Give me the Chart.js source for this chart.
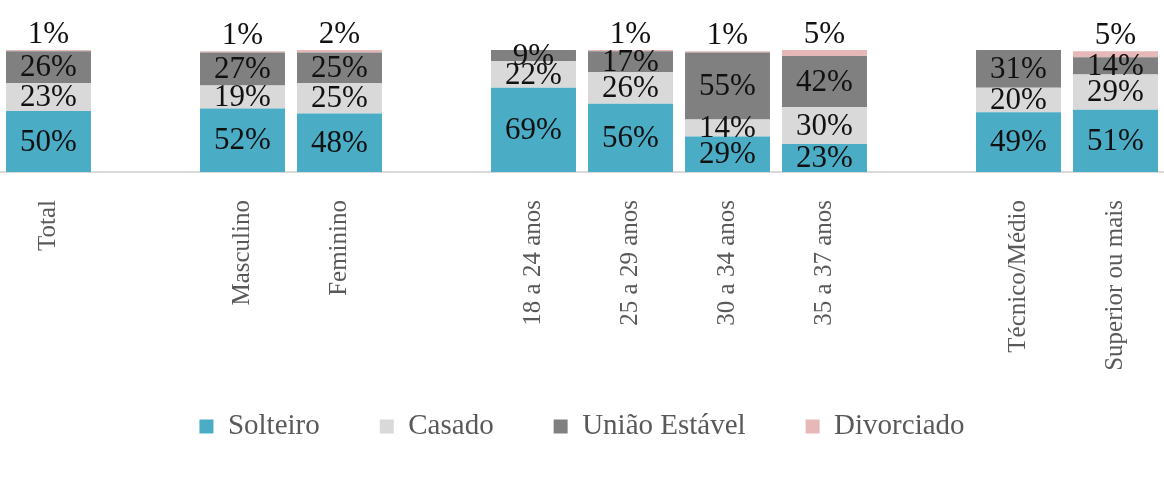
<!DOCTYPE html>
<html lang="pt">
<head>
  <meta charset="UTF-8" />
  <title>Estado civil</title>
  <script src="https://cdn.jsdelivr.net/npm/chart.js"></script>
  <style>
    html, body {
      margin: 0;
      padding: 0;
      background: #fff;
    }

    .chart-wrapper {
      width: 1164px;
      height: 490px;
    }
  </style>
</head>
<body>
  <div class="chart-wrapper">
    <canvas id="estadoChart"></canvas>
  </div>

  <script>
    // empty strings leave the gaps between groups
    const categories = ['Total', '', 'Masculino', 'Feminino', '', '18 a 24 anos', '25 a 29 anos',
      '30 a 34 anos', '35 a 37 anos', '', 'Técnico/Médio', 'Superior ou mais'];

    const solteiro   = [50, null, 52, 48, null, 69, 56, 29, 23, null, 49, 51];
    const casado     = [23, null, 19, 25, null, 22, 26, 14, 30, null, 20, 29];
    const uniao      = [26, null, 27, 25, null, 9, 17, 55, 42, null, 31, 14];
    const divorciado = [1, null, 1, 2, null, 0, 1, 1, 5, null, 0, 5];

    const serif = "'Liberation Serif', 'Times New Roman', serif";

    // percent labels: centred in each segment, Divorciado sits above the bar
    const barLabels = {
      id: 'barLabels',
      afterDatasetsDraw(chart) {
        const ctx = chart.ctx;
        ctx.save();
        ctx.font = '31px ' + serif;
        ctx.fillStyle = '#111';
        ctx.textAlign = 'center';
        chart.data.datasets.forEach((ds, i) => {
          const meta = chart.getDatasetMeta(i);
          meta.data.forEach((bar, j) => {
            const v = ds.data[j];
            if (!v) return;
            if (i === 3) {
              ctx.textBaseline = 'alphabetic';
              ctx.fillText(v + '%', bar.x, bar.y - 7);
            } else {
              ctx.textBaseline = 'middle';
              ctx.fillText(v + '%', bar.x, (bar.y + bar.base) / 2 + 1);
            }
          });
        });
        ctx.restore();
      }
    };

    // the long rotated labels need room, so the legend is drawn a bit higher than its box
    const liftLegend = {
      id: 'liftLegend',
      afterLayout(chart) {
        chart.legend.top -= 25;
        chart.legend.bottom -= 25;
      }
    };

    const ctx = document.getElementById('estadoChart').getContext('2d');

    new Chart(ctx, {
      type: 'bar',
      data: {
        labels: categories,
        datasets: [
          { label: 'Solteiro', data: solteiro, backgroundColor: '#4bacc6' },
          { label: 'Casado', data: casado, backgroundColor: '#d9d9d9' },
          { label: 'União Estável', data: uniao, backgroundColor: '#808080' },
          { label: 'Divorciado', data: divorciado, backgroundColor: '#e6b9b8' }
        ]
      },
      options: {
        responsive: true,
        maintainAspectRatio: false,
        animation: false,
        datasets: {
          bar: {
            categoryPercentage: 1,
            barPercentage: 0.876,
            borderWidth: 0
          }
        },
        layout: {
          padding: { top: 50, left: 0, right: 0, bottom: 14 }
        },
        scales: {
          x: {
            stacked: true,
            grid: { display: false, drawTicks: false },
            border: { display: true, color: '#d9d9d9', width: 2 },
            ticks: {
              autoSkip: false,
              minRotation: 90,
              maxRotation: 90,
              padding: 28,
              color: '#595959',
              font: { family: serif, size: 25 }
            },
            afterFit(scale) {
              scale.height = 205;
              scale.paddingLeft = 0;
              scale.paddingRight = 0;
            }
          },
          y: {
            stacked: true,
            display: false,
            min: 0,
            max: 100
          }
        },
        plugins: {
          tooltip: { enabled: false },
          legend: {
            position: 'bottom',
            labels: {
              boxWidth: 14,
              boxHeight: 14,
              padding: 60,
              color: '#595959',
              font: { family: serif, size: 29 }
            }
          }
        }
      },
      plugins: [barLabels, liftLegend]
    });
  </script>
</body>
</html>
